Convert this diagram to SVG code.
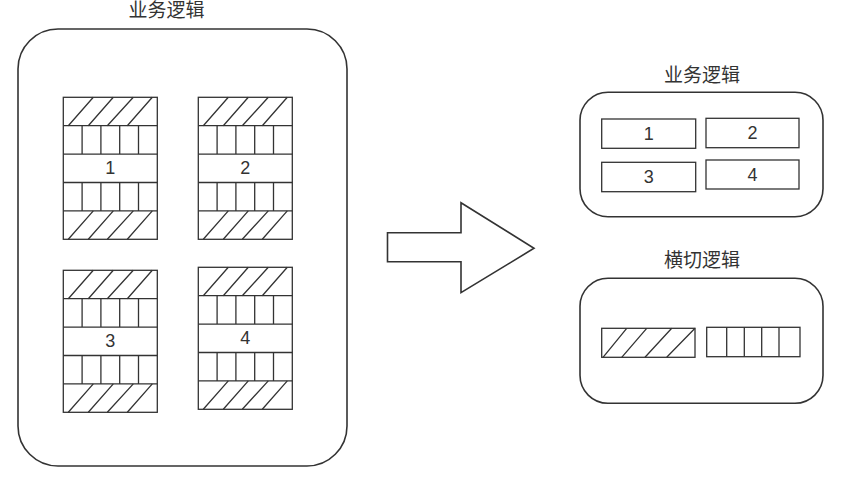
<svg xmlns="http://www.w3.org/2000/svg" xmlns:xlink="http://www.w3.org/1999/xlink" width="866" height="478" viewBox="0 0 866 478">
<style>
.outer{fill:#fff;stroke:#333;stroke-width:1.6}
.cell{fill:#fff;stroke:#333;stroke-width:1.3}
.ln{stroke:#333;stroke-width:1.3;fill:none}
.title{font-family:"Liberation Sans","Noto Sans CJK SC",sans-serif;font-size:19px;fill:#333;text-anchor:middle}
.num{font-family:"Liberation Sans","Noto Sans CJK SC",sans-serif;font-size:18px;fill:#333;text-anchor:middle}
</style>
<defs>
<g id="hatchRow">
<path class="ln" d="M5,28.4L30,0M25,28.4L50,0M44,28.4L70,0M64,28.4L89,0"/>
</g>
<g id="vertRow">
<path class="ln" d="M18.8,0V28.4M37.6,0V28.4M56.4,0V28.4M75.2,0V28.4"/>
</g>
<g id="block">
<rect class="cell" x="0" y="0" width="94" height="142"/>
<path class="ln" d="M0,28.4H94M0,56.8H94M0,85.2H94M0,113.6H94"/>
<use xlink:href="#hatchRow"/>
<use xlink:href="#vertRow" transform="translate(0,28.4)"/>
<use xlink:href="#vertRow" transform="translate(0,85.2)"/>
<use xlink:href="#hatchRow" transform="translate(0,113.6)"/>
</g>
</defs>
<rect width="866" height="478" fill="#fff"/>

<g id="left-group">
<text class="title" x="166.5" y="17">业务逻辑</text>
<rect class="outer" x="18" y="29" width="329" height="437" rx="40" ry="40"/>
</g>
<g id="block-1">
<use xlink:href="#block" transform="translate(63.3,97.3)"/>
<text class="num" x="110.3" y="174">1</text>
</g>
<g id="block-2">
<use xlink:href="#block" transform="translate(198.3,97.3)"/>
<text class="num" x="245.3" y="174">2</text>
</g>
<g id="block-3">
<use xlink:href="#block" transform="translate(63.3,270.3)"/>
<text class="num" x="110.3" y="347">3</text>
</g>
<g id="block-4">
<use xlink:href="#block" transform="translate(198.3,267.3)"/>
<text class="num" x="245.3" y="344">4</text>
</g>

<g id="connectors">
<path class="outer" d="M387.5,232.7H461V202.7L534,248.3L461,292.7V261.7H387.5Z"/>
</g>

<g id="business-logic">
<text class="title" x="702" y="82">业务逻辑</text>
<rect class="outer" x="580" y="92.3" width="243" height="124.4" rx="28" ry="28"/>
<rect class="cell" x="601.7" y="119" width="94" height="29.3"/>
<text class="num" x="648.7" y="140">1</text>
<rect class="cell" x="706" y="118.3" width="93" height="29.4"/>
<text class="num" x="752.5" y="139">2</text>
<rect class="cell" x="601.7" y="162.3" width="94" height="29.4"/>
<text class="num" x="648.7" y="183">3</text>
<rect class="cell" x="706" y="160" width="93" height="29"/>
<text class="num" x="752.5" y="181">4</text>
</g>

<g id="crosscutting-logic">
<text class="title" x="702" y="267">横切逻辑</text>
<rect class="outer" x="580" y="278.3" width="243" height="125" rx="28" ry="28"/>
<rect class="cell" x="601.7" y="328.3" width="93.3" height="29"/>
<path class="ln" d="M603,357.3L626.7,328.3M621.7,357.3L646.7,328.3M645,357.3L671.7,328.3M666.7,357.3L695,328.3"/>
<rect class="cell" x="706.7" y="327.3" width="93.3" height="29.4"/>
<path class="ln" d="M726.7,327.3V356.7M744.3,327.3V356.7M761.7,327.3V356.7M779,327.3V356.7"/>
</g>
</svg>
